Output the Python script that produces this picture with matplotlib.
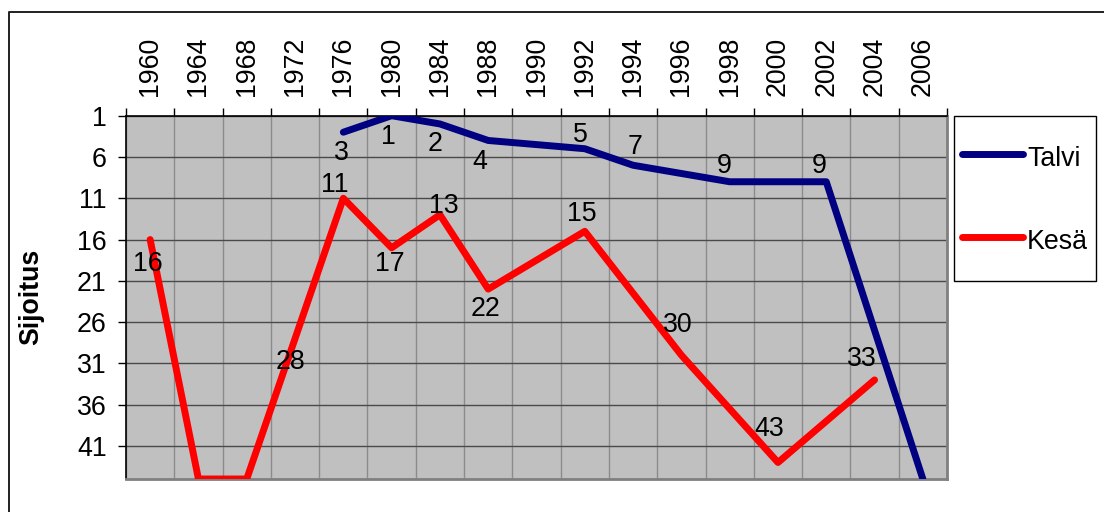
import numpy as np
import matplotlib.pyplot as plt
from matplotlib.lines import Line2D
from matplotlib.patches import Rectangle

plt.rcParams['font.family'] = ['Liberation Sans', 'DejaVu Sans']

# categories (olympic years) and rankings; 45 = off the bottom of the chart
years = ['1960', '1964', '1968', '1972', '1976', '1980', '1984', '1988', '1990',
         '1992', '1994', '1996', '1998', '2000', '2002', '2004', '2006']
nan = np.nan
talvi = np.array([nan, nan, nan, nan, 3, 1, 2, 4, nan, 5, 7, nan, 9, nan, 9, nan, 45])
kesa = np.array([16, 45, 45, 28, 11, 17, 13, 22, nan, 15, nan, 30, nan, 43, nan, 33, nan])
series = [('Talvi', talvi, '#000080'), ('Kesä', kesa, '#FF0000')]

# label offsets in pixels (dx, dy), keyed by category index
offsets = {
    'Talvi': {4: (-2, -18), 5: (-3, -19), 6: (-5, -18), 7: (-8, -19), 9: (-4, 16),
              10: (2, 21), 12: (-5, 18), 14: (-7, 18)},
    'Kesä': {0: (-2, -22), 3: (-5, -21), 4: (-9, 16), 5: (-2, -14), 6: (4, 11),
             7: (-3, -17), 9: (-3, 20), 11: (-4, 33), 13: (-9, 36), 15: (-13, 23)},
}

W, H = 1104, 512
FS = 19.3


def px(x, y):
    return x / W, 1 - y / H


fig = plt.figure(figsize=(W / 100, H / 100), dpi=100)
ax = fig.add_axes([126 / W, 1 - 479 / H, 821 / W, 363.3 / H])
ax.set_facecolor('#C0C0C0')

x = np.arange(len(years))
for name, vals, col in series:
    m = ~np.isnan(vals)
    ax.plot(x[m], vals[m], color=col, lw=5, solid_capstyle='round',
            solid_joinstyle='round', zorder=3)
    for i, (dx, dy) in offsets[name].items():
        ax.annotate(f'{vals[i]:g}', (x[i], vals[i]), xytext=(dx, dy - 2.5),
                    textcoords='offset pixels', ha='center', va='center',
                    fontsize=FS, zorder=4)

ax.set_xlim(-0.5, len(years) - 0.5)
ax.set_ylim(45, 1)
ax.set_yticks(range(1, 42, 5))

ax.xaxis.tick_top()
ax.set_xticks(x)
ax.set_xticklabels(years, rotation=90, fontsize=FS)
ax.set_xticks(np.arange(-0.5, len(years), 1), minor=True)
ax.tick_params(axis='x', which='major', length=0, pad=14)
ax.tick_params(axis='x', which='minor', length=6, width=1, direction='out', color='black')
ax.tick_params(axis='y', length=6, width=1, direction='out', pad=8, labelsize=FS)

ax.grid(axis='y', which='major', color='#4a4a4a', lw=1, zorder=1)
ax.grid(axis='x', which='minor', color='#8c8c8c', lw=1, zorder=1)
ax.set_axisbelow(True)

for s in ['top', 'left']:
    ax.spines[s].set_color('black')
    ax.spines[s].set_linewidth(1.2)
for s in ['bottom', 'right']:
    ax.spines[s].set_color('#808080')
    ax.spines[s].set_linewidth(2)

ax.set_ylabel('Sijoitus', fontsize=FS, fontweight='bold')
ax.yaxis.set_label_coords(-0.100, 0.5)

# legend box at the right
x0, y0 = px(954, 281)
x1, y1 = px(1096, 115.7)
fig.add_artist(Rectangle((x0, y0), x1 - x0, y1 - y0, transform=fig.transFigure,
                         facecolor='white', edgecolor='black', lw=1))
for (name, vals, col), yl, yb in zip(series, [154, 237], [166.5, 249]):
    fig.add_artist(Line2D([962 / W, 1023 / W], [1 - yl / H] * 2, transform=fig.transFigure,
                          color=col, lw=5, solid_capstyle='round'))
    fig.text(1027 / W, 1 - yb / H, name, fontsize=FS, ha='left', va='baseline')

# outer chart border (only left and top edges fall inside the picture)
fig.add_artist(Line2D([9 / W, 9 / W, 1.0], [0.0, 1 - 11.7 / H, 1 - 11.7 / H],
                      transform=fig.transFigure, color='#202020', lw=1.4))

fig.savefig('out.png', dpi=100)
